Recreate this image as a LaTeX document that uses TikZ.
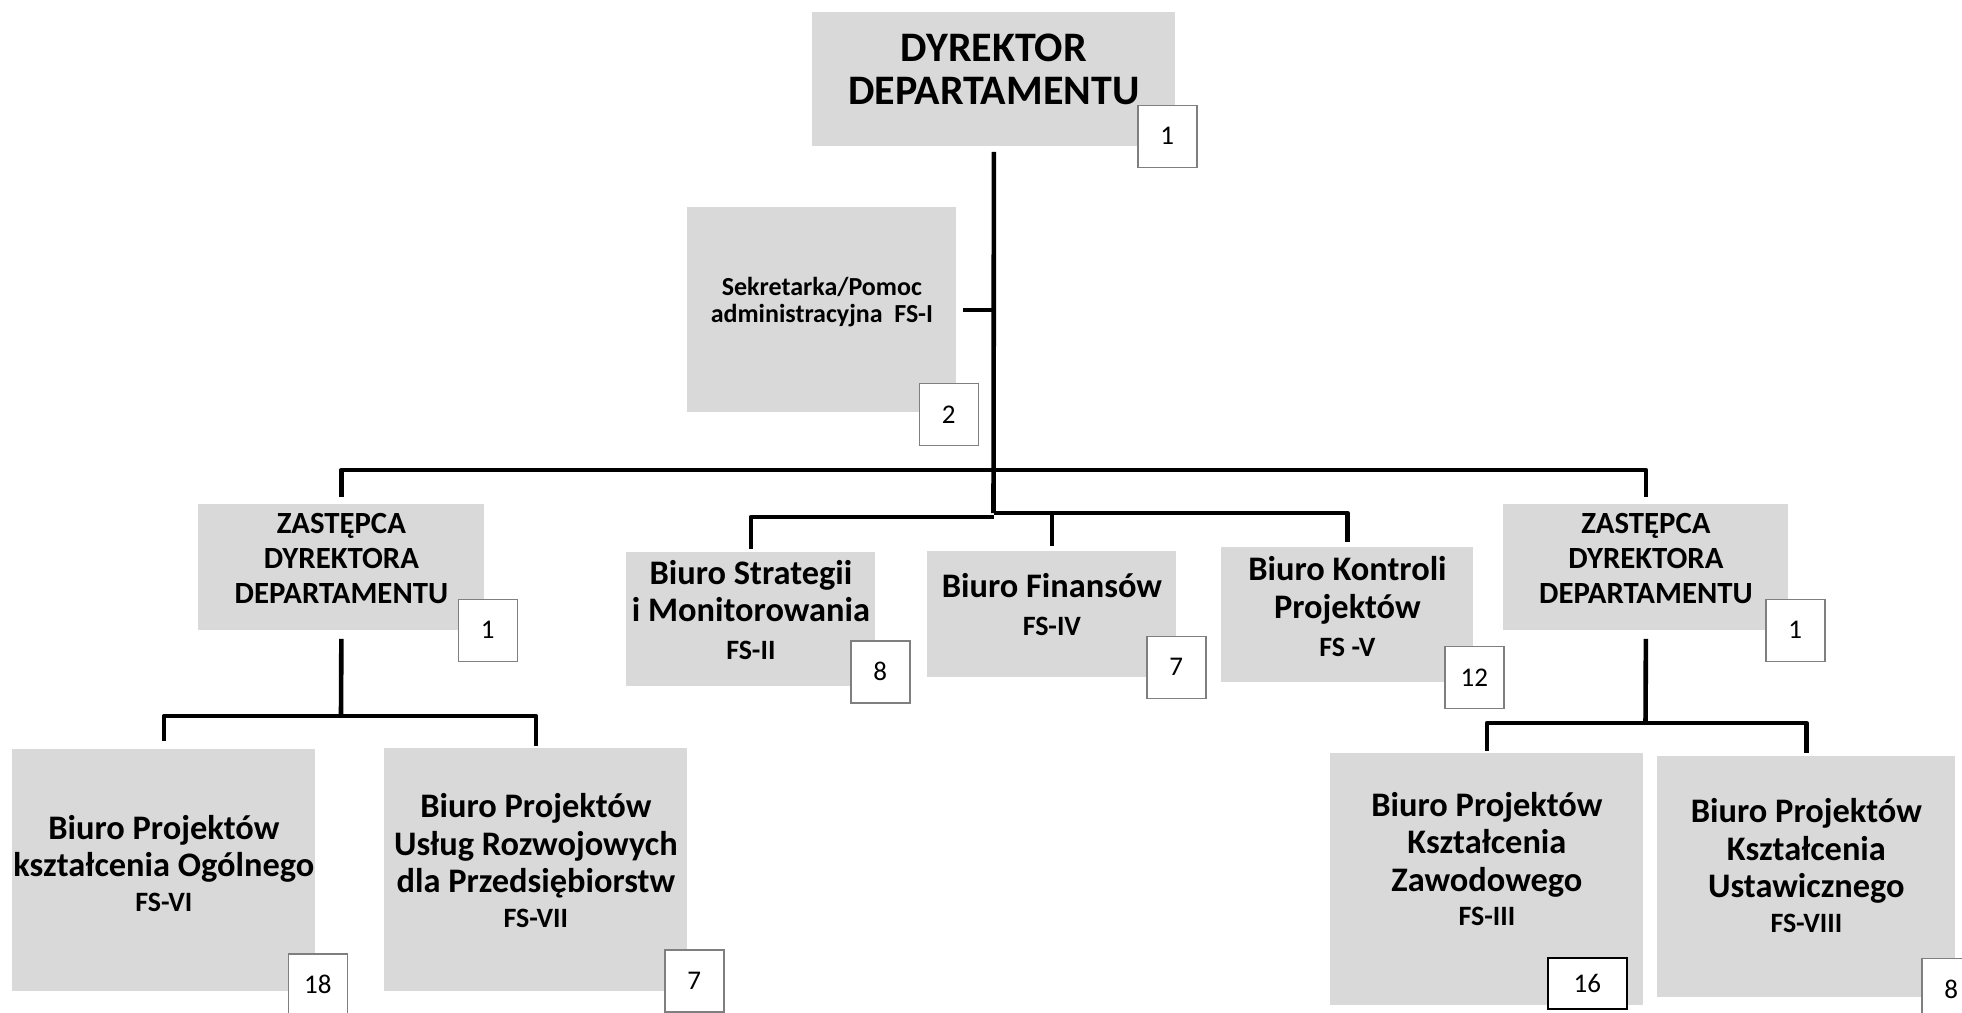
\documentclass[tikz,border=0pt]{standalone}
\usepackage{fontspec}
\setmainfont{Carlito}
\usepackage{xcolor}
\definecolor{UNITCOLOR}{HTML}{D9D9D9}
\definecolor{COUNTCOLOR}{HTML}{7F7F7F}
\colorlet{LINKCOLOR}{black}
\usepackage{tikz}
\usetikzlibrary{positioning,calc}
\newlength\unitPx
\setlength\unitPx{0.5pt}
\newcommand\headFont{\fontsize{21}{21.5}\selectfont\bfseries}
\newcommand\deputyFont{\fontsize{15.4}{17.5}\selectfont\bfseries}
\newcommand\officeFont{\fontsize{17.2}{18.8}\selectfont\bfseries}
\newcommand\aideFont{\fontsize{13}{13.5}\selectfont\bfseries}
\newcommand\subName[1]{{\fontsize{14}{15}\selectfont #1}}
\tikzset{
  basic-style/.style = {
    rectangle, fill=UNITCOLOR,
    align=center,
    inner sep=0pt,
    anchor=north west,
    font=#1
  },
  head-style/.style = {
    basic-style=\headFont
  },
  deputy-style/.style = {
    basic-style=\deputyFont
  },
  office-style/.style = {
    basic-style=\officeFont
  },
  aide-style/.style = {
    basic-style=\aideFont
  },
  count-style/.style = {
    rectangle, draw=COUNTCOLOR, line width=1.5\unitPx, fill=white,
    minimum width=59\unitPx,
    minimum height=62\unitPx,
    inner sep=0pt,
    font=\fontsize{13.5}{15}\selectfont
  },
  link-style/.style = {
    draw=LINKCOLOR, line width=4.6\unitPx, line join=round
  }
}
\def\createUnit name:#1 style:#2 at:#3 size:#4/#5 lift:#6 text:#7;{
  \node [#2, minimum width=#4\unitPx, minimum height=#5\unitPx,
         text depth=#6\unitPx] (#1) at #3 {#7};
}
\def\createCount of:#1 style:#2 shift:#3 value:#4;{
  \node [count-style, #2] (#1-count) at ([shift={#3}]#1.south east) {#4};
}

\begin{document}
\begin{tikzpicture}[x=1\unitPx, y=-1\unitPx]
  \useasboundingbox (0,0) rectangle (1962,1012);

  % top
  \createUnit name:dyr style:head-style at:(812,12) size:363/134 lift:20
    text:{DYREKTOR\\DEPARTAMENTU};
  \createUnit name:sek style:aide-style at:(687,207) size:269/205 lift:21
    text:{Sekretarka/Pomoc\\administracyjna~~FS-I};

  % deputies
  \createUnit name:zl style:deputy-style at:(198,504) size:286/126 lift:18
    text:{ZASTĘPCA\\DYREKTORA\\DEPARTAMENTU};
  \createUnit name:zp style:deputy-style at:(1503,504) size:285/126 lift:18
    text:{ZASTĘPCA\\DYREKTORA\\DEPARTAMENTU};

  % offices under the director
  \createUnit name:bso style:office-style at:(626,552) size:249/134 lift:19
    text:{Biuro Strategii\\i Monitorowania\\\subName{FS-II}};
  \createUnit name:bf style:office-style at:(927,551) size:249/126 lift:20
    text:{Biuro Finansów\\\subName{FS-IV}};
  \createUnit name:bkp style:office-style at:(1221,547) size:252/135 lift:17
    text:{Biuro Kontroli\\Projektów\\\subName{FS -V}};

  % offices under the deputies
  \createUnit name:bpo style:office-style at:(12,749) size:303/242 lift:14
    text:{Biuro Projektów\\kształcenia Ogólnego\\[-1.5pt]\subName{FS-VI}};
  \createUnit name:bpu style:office-style at:(384,748) size:303/243 lift:19
    text:{Biuro Projektów\\Usług Rozwojowych\\dla Przedsiębiorstw\\[-1.5pt]\subName{FS-VII}};
  \createUnit name:bpz style:office-style at:(1330,753) size:313/252 lift:41
    text:{Biuro Projektów\\Kształcenia\\Zawodowego\\[-1.5pt]\subName{FS-III}};
  \createUnit name:bpk style:office-style at:(1657,756) size:298/241 lift:23
    text:{Biuro Projektów\\Kształcenia\\Ustawicznego\\[-1.5pt]\subName{FS-VIII}};

  % staff counts
  \createCount of:dyr style:{} shift:(-8.5,-10.5) value:1;
  \createCount of:sek style:{} shift:(-8,1.5) value:2;
  \createCount of:zl style:{} shift:(3,-0.5) value:1;
  \createCount of:zp style:{} shift:(6.5,-0.5) value:1;
  \createCount of:bso style:{} shift:(4.5,-15) value:8;
  \createCount of:bf style:{} shift:(-0.5,-10.5) value:7;
  \createCount of:bkp style:{} shift:(0.5,-5.5) value:12;
  \createCount of:bpo style:{} shift:(2,-7) value:18;
  \createCount of:bpu style:{} shift:(6.5,-11) value:7;
  \createCount of:bpz style:{draw=black, minimum width=79\unitPx, minimum height=51\unitPx} shift:(-56.5,-22.5) value:16;
  \createCount of:bpk style:{} shift:(-4.5,-8.5) value:8;

  % connectors
  \coordinate (hub-top) at (993.5,470);
  \coordinate (hub-mid) at (993.5,513);
  \coordinate (hub-low) at (993.5,517);
  \coordinate (hub-left) at (341,716);
  \coordinate (hub-right) at (1645.5,723);

  \draw[link-style, shorten <=5\unitPx] (dyr.south) -- (hub-mid);
  \draw[link-style, shorten <=6\unitPx] (sek.east) -- (sek.east -| hub-top);
  \draw[link-style, shorten <=7\unitPx, shorten >=7\unitPx] (zl.north) |- (hub-top) -| (zp.north);
  \draw[link-style, shorten <=3\unitPx] (bso.north) |- (hub-low);
  \draw[link-style, shorten >=5\unitPx] (hub-mid) -| (bkp.north);
  \draw[link-style, shorten <=5\unitPx] (bf.north) -- (bf.north |- hub-mid);
  \draw[link-style, shorten <=8\unitPx] (zl.south) -- (hub-left);
  \draw[link-style, shorten <=8\unitPx, shorten >=2\unitPx] (bpo.north) |- (hub-left) -| (bpu.north);
  \draw[link-style, shorten <=8\unitPx] (zp.south) -- (hub-right);
  \draw[link-style, shorten <=2\unitPx, shorten >=3\unitPx] (bpz.north) |- (hub-right) -| (bpk.north);
\end{tikzpicture}
\end{document}
